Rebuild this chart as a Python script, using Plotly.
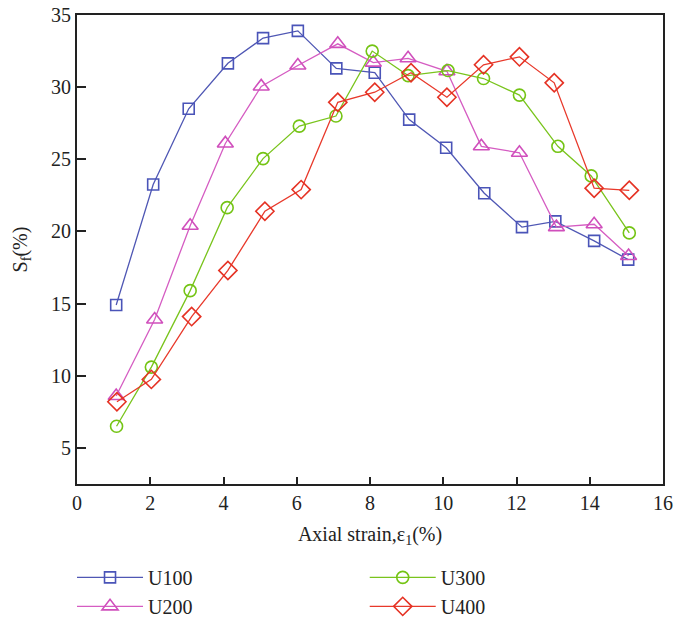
import plotly.graph_objects as go

# Data
x_u100 = [1.07, 2.08, 3.05, 4.12, 5.08, 6.03, 7.08, 8.13, 9.07, 10.08, 11.12, 12.15, 13.06, 14.12, 15.05]
y_u100 = [14.9, 23.25, 28.5, 31.65, 33.4, 33.9, 31.3, 31.0, 27.75, 25.8, 22.65, 20.3, 20.7, 19.35, 18.05]

x_u200 = [1.07, 2.12, 3.09, 4.05, 5.03, 6.03, 7.12, 8.09, 9.04, 10.1, 11.04, 12.08, 13.09, 14.12, 15.06]
y_u200 = [8.6, 13.9, 20.4, 26.1, 30.05, 31.5, 33.0, 31.7, 32.0, 31.1, 25.9, 25.45, 20.3, 20.5, 18.3]

x_u300 = [1.08, 2.03, 3.09, 4.1, 5.08, 6.07, 7.07, 8.06, 9.04, 10.13, 11.1, 12.08, 13.13, 14.04, 15.08]
y_u300 = [6.5, 10.6, 15.9, 21.65, 25.05, 27.3, 28.0, 32.5, 30.8, 31.15, 30.6, 29.45, 25.9, 23.85, 19.9]

x_u400 = [1.09, 2.03, 3.13, 4.12, 5.13, 6.12, 7.12, 8.13, 9.12, 10.1, 11.1, 12.08, 13.03, 14.12, 15.08]
y_u400 = [8.2, 9.75, 14.1, 17.3, 21.4, 22.9, 28.95, 29.65, 31.0, 29.3, 31.55, 32.1, 30.3, 23.0, 22.85]

names = ["U100", "U200", "U300", "U400"]
x_ticks = [0, 2, 4, 6, 8, 10, 12, 14, 16]
y_ticks = [5, 10, 15, 20, 25, 30, 35]

series = [
    (names[0], x_u100, y_u100, "#4f57b4", "#4a54b8", "square-open", 11, "legend"),
    (names[1], x_u200, y_u200, "#d55cc2", "#d04fbc", "triangle-up-open", 14, "legend"),
    (names[2], x_u300, y_u300, "#79c41c", "#74c414", "circle-open", 12, "legend2"),
    (names[3], x_u400, y_u400, "#e8392b", "#e53224", "diamond-open", 14, "legend2"),
]

FONT = "Liberation Serif"
FS = 20

fig = go.Figure()
for name, xs, ys, lc, mc, sym, sz, leg in series:
    fig.add_trace(go.Scatter(
        x=xs, y=ys, name=name, mode="lines+markers",
        line=dict(color=lc, width=1.3),
        marker=dict(symbol=sym, size=sz, color=mc, line=dict(color=mc, width=1.6)),
        legend=leg,
    ))

leg_common = dict(y=-0.23, yanchor="middle",
                  xanchor="left", orientation="v", font=dict(size=FS, family=FONT),
                  itemwidth=66, tracegroupgap=0, bgcolor="rgba(0,0,0,0)")

fig.update_layout(
    width=675, height=618,
    margin=dict(l=77, r=12, t=15, b=134, autoexpand=False),
    paper_bgcolor="white", plot_bgcolor="white",
    font=dict(family=FONT, size=FS, color="#222222"),
    showlegend=True,
    legend=dict(x=-0.0085, **leg_common),
    legend2=dict(x=0.491, **leg_common),
)

fig.update_xaxes(
    range=[0, 16], tickvals=x_ticks, ticktext=[str(v) for v in x_ticks],
    ticks="inside", ticklen=7, tickwidth=1.5, tickcolor="#222222",
    showline=True, linecolor="#222222", linewidth=1.8, mirror=True,
    showgrid=False, zeroline=False,
    title=dict(text="Axial strain,ε<sub>1</sub>(%)", font=dict(size=FS, family=FONT), standoff=14),
    tickfont=dict(size=FS, family=FONT),
)
fig.update_yaxes(
    range=[2.5, 35], tickvals=y_ticks, ticktext=[str(v) for v in y_ticks],
    ticks="inside", ticklen=9, tickwidth=1.5, tickcolor="#222222",
    showline=True, linecolor="#222222", linewidth=1.8, mirror=True,
    showgrid=False, zeroline=False,
    title=dict(text="S<sub>f</sub>(%)", font=dict(size=FS, family=FONT), standoff=18),
    tickfont=dict(size=FS, family=FONT),
)

fig.write_html("out.html")
